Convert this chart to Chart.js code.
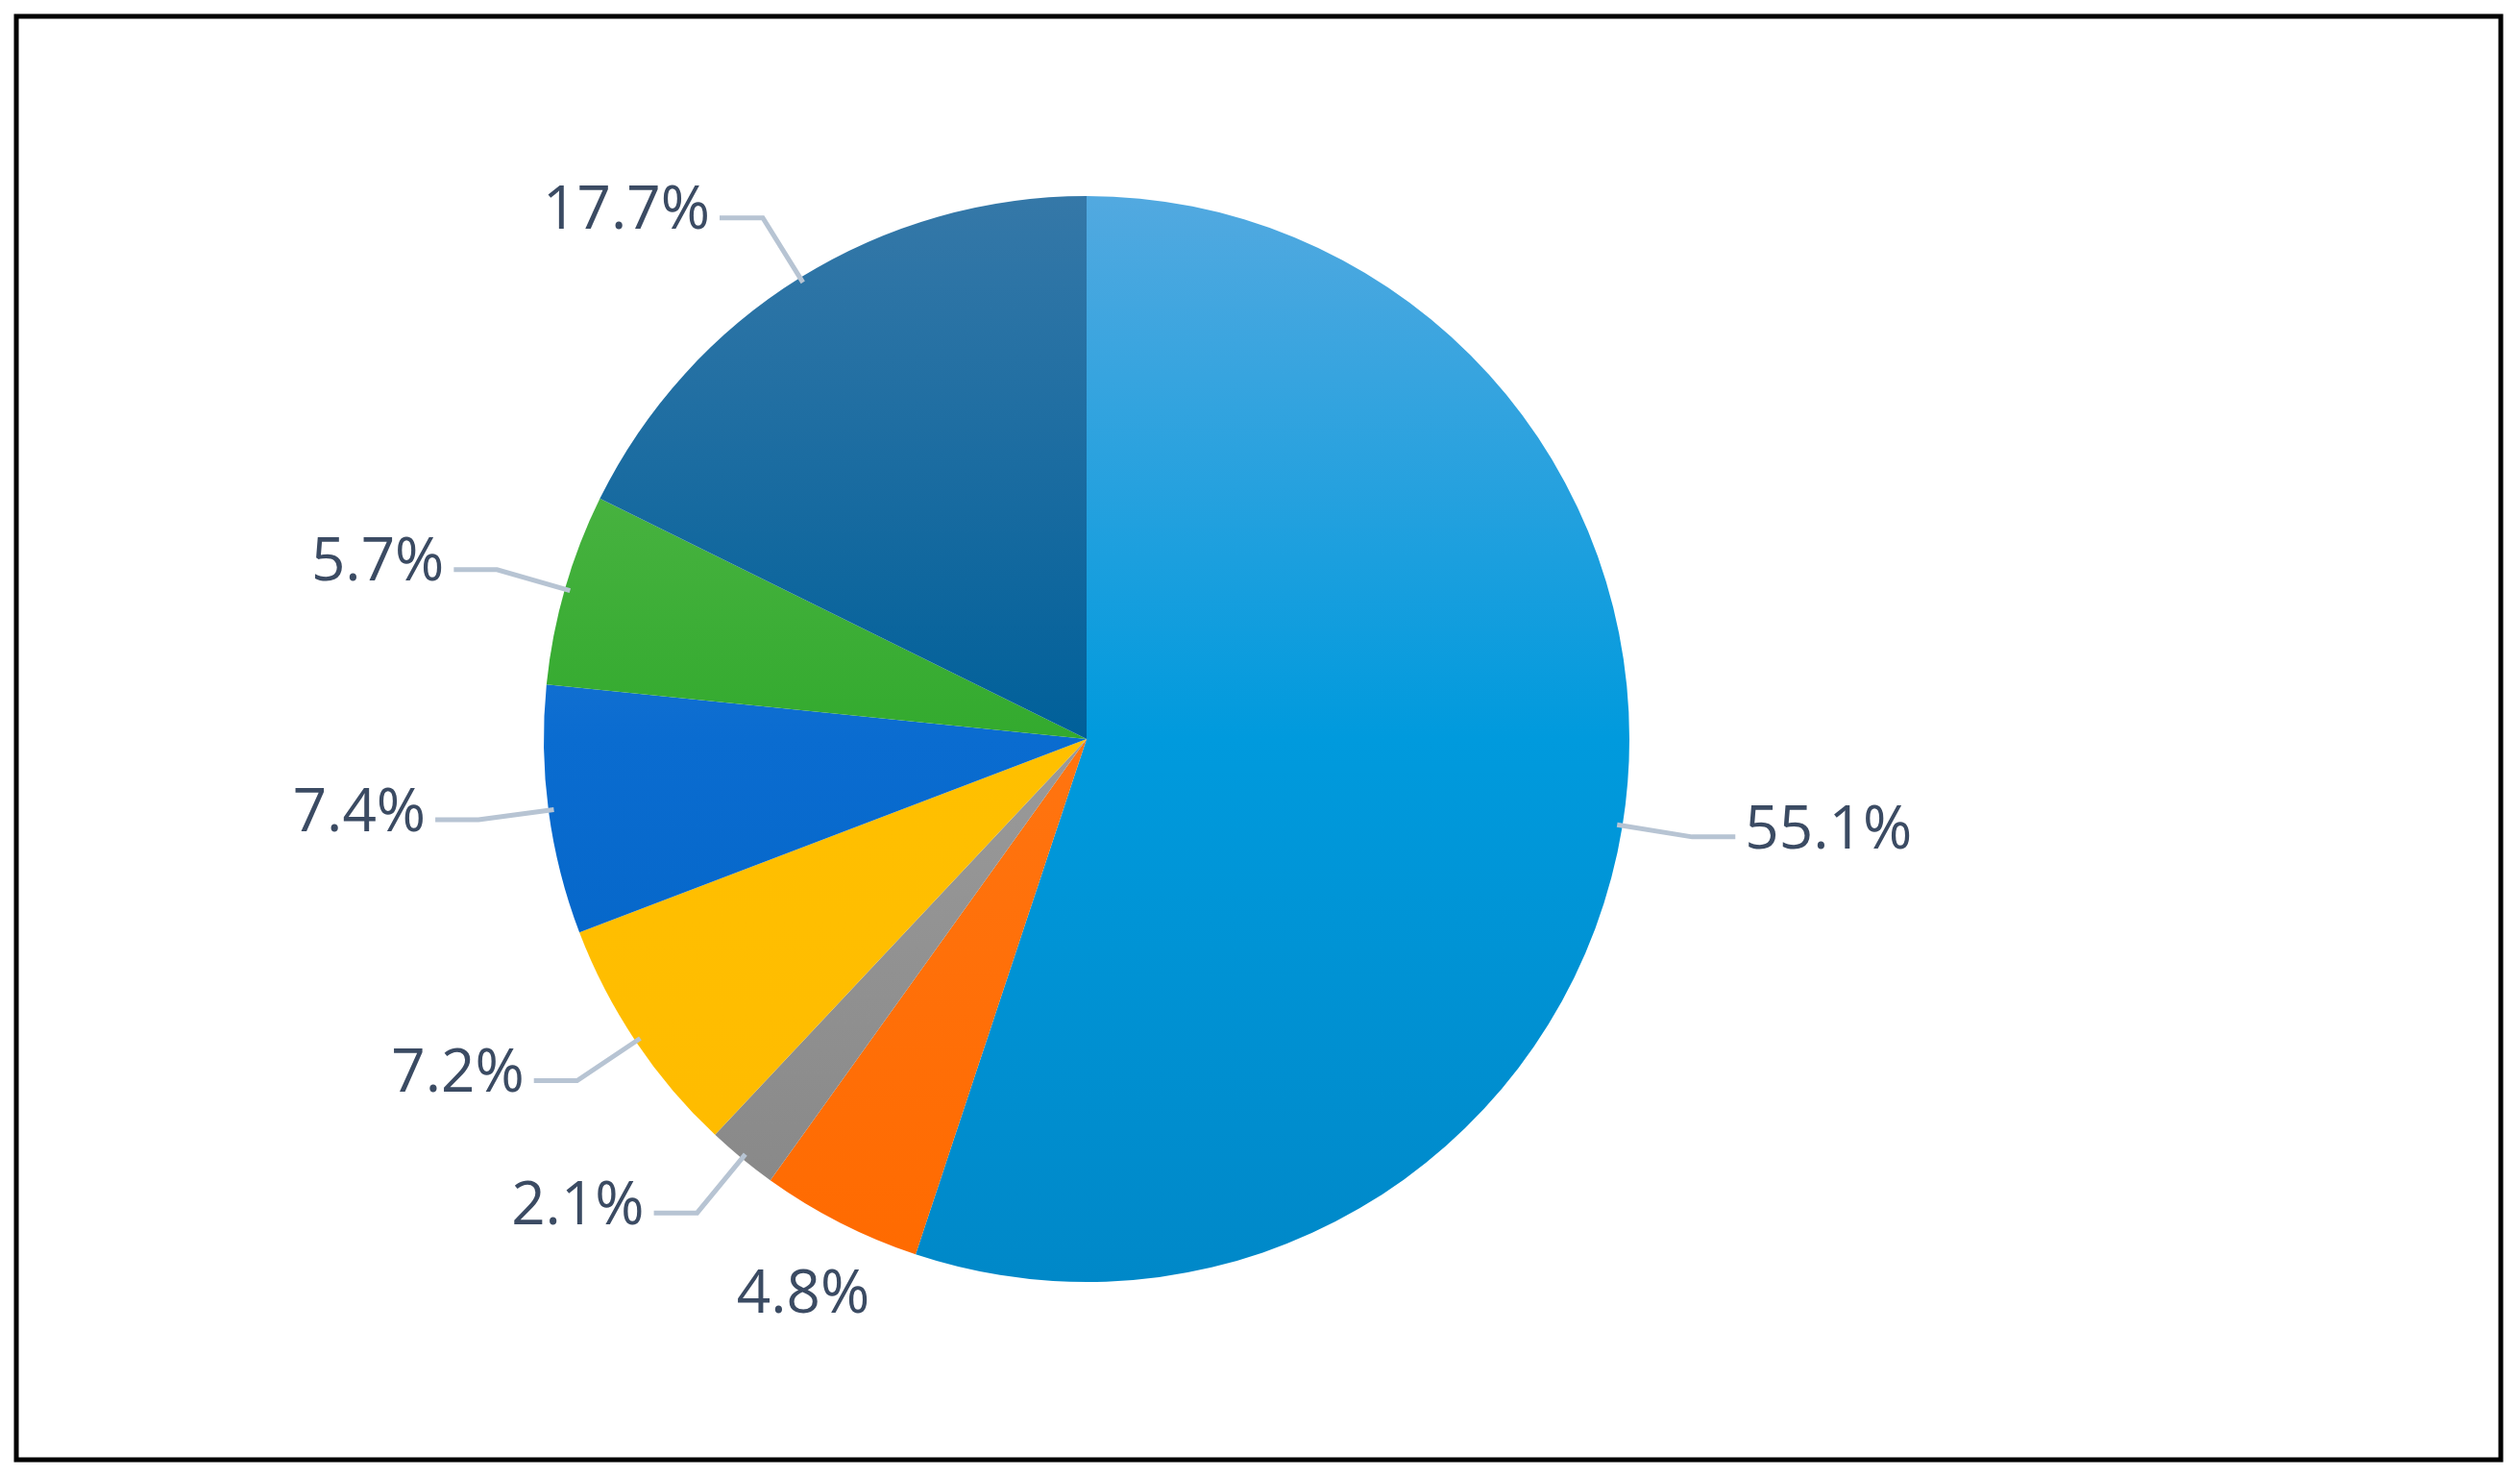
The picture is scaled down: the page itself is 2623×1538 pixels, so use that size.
<!DOCTYPE html>
<html><head><meta charset="utf-8">
<script src="https://cdn.jsdelivr.net/npm/chart.js@4"></script>
<style>html,body{margin:0;padding:0;background:#fff;}#wrap{width:2623px;height:1538px;position:relative;}</style>
</head><body><div id="wrap"><canvas id="c" width="2623" height="1538"></canvas></div>
<script>
const categories = ['A','B','C','D','E','F','G'];
const values = [55.1, 4.8, 2.1, 7.2, 7.4, 5.7, 17.7];
const valueLabels = ['55.1%','4.8%','2.1%','7.2%','7.4%','5.7%','17.7%'];
const gradStops = [
  ['#52A9E0','#009ADD','#0088C8'],
  ['#FF8C42','#FF7410','#FF6A00'],
  ['#B4B4B4','#9A9A9A','#858585'],
  ['#FFC61A','#FFC000','#FFBA00'],
  ['#4A88D8','#0A6CD0','#0060C0'],
  ['#60BC55','#33AA2E','#28A028'],
  ['#3578A8','#00609A','#004A85']
];
const showLine = [true,false,true,true,true,true,true];

function grad(ctx){
  const ch = ctx.chart, a = ch.chartArea;
  if(!a) return gradStops[ctx.dataIndex][1];
  const g = ch.ctx.createLinearGradient(0,a.top,0,a.bottom);
  const s = gradStops[ctx.dataIndex];
  g.addColorStop(0,s[0]); g.addColorStop(0.5,s[1]); g.addColorStop(1,s[2]);
  return g;
}

const labelPlugin = {
  id:'lbl',
  afterDraw(chart){
    const ctx = chart.ctx;
    ctx.save();
    ctx.strokeStyle='#000'; ctx.lineWidth=5;
    ctx.strokeRect(17,17,2586,1502);
    const meta = chart.getDatasetMeta(0);
    ctx.font = '62px "Open Sans", sans-serif';
    ctx.fillStyle='#3B4B63';
    ctx.textBaseline='middle';
    meta.data.forEach((arc,i)=>{
      const mid=(arc.startAngle+arc.endAngle)/2, r=arc.outerRadius, cx=arc.x, cy=arc.y;
      const dx=Math.cos(mid), dy=Math.sin(mid);
      const right = dx>0;
      const p0=[cx+dx*r*0.99, cy+dy*r*0.99];
      const p1=[cx+dx*r*1.13, cy+dy*r*1.13];
      const p2=[p1[0]+(right?45:-45), p1[1]];
      if(showLine[i]){
        ctx.strokeStyle='#B7C4D3'; ctx.lineWidth=5;
        ctx.beginPath(); ctx.moveTo(...p0); ctx.lineTo(...p1); ctx.lineTo(...p2); ctx.stroke();
        ctx.textAlign = right?'left':'right';
        ctx.fillText(valueLabels[i], p2[0]+(right?10:-10), p2[1]-6);
      } else {
        ctx.textAlign='center';
        ctx.fillText(valueLabels[i], cx+dx*r*1.15, cy+dy*r*1.15);
      }
    });
    ctx.restore();
  }
};

new Chart(document.getElementById('c'),{
  type:'pie',
  data:{labels:categories,datasets:[{data:values,backgroundColor:grad,borderColor:'#fff',borderWidth:0}]},
  options:{responsive:false,animation:false,
    layout:{padding:{left:566,right:927,top:204,bottom:204}},
    plugins:{legend:{display:false},tooltip:{enabled:false}}},
  plugins:[labelPlugin]
});
</script></body></html>
